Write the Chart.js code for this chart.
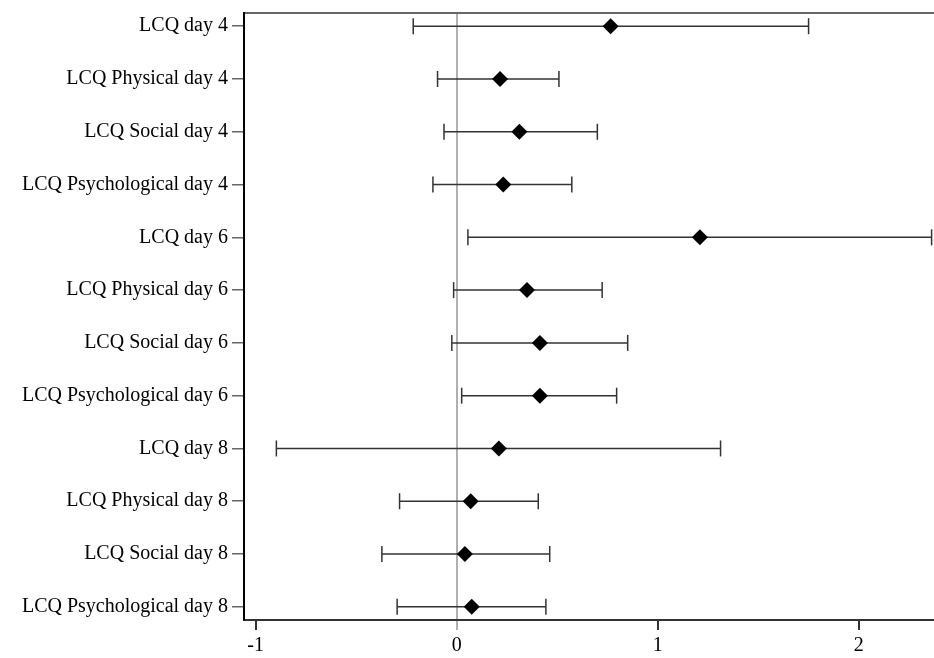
<!DOCTYPE html>
<html>
<head>
<meta charset="utf-8">
<script src="https://cdn.jsdelivr.net/npm/chart.js@4/dist/chart.umd.min.js"></script>
<style>
  body { margin: 0; background: #fff; }
  canvas { display: block; }
</style>
</head>
<body>
<canvas id="forest-chart" width="934" height="658"></canvas>
<script>
const rowLabels = [
  "LCQ day 4",
  "LCQ Physical day 4",
  "LCQ Social day 4",
  "LCQ Psychological day 4",
  "LCQ day 6",
  "LCQ Physical day 6",
  "LCQ Social day 6",
  "LCQ Psychological day 6",
  "LCQ day 8",
  "LCQ Physical day 8",
  "LCQ Social day 8",
  "LCQ Psychological day 8",
];
const estimates = [0.766, 0.216, 0.312, 0.232, 1.21, 0.35, 0.414, 0.414, 0.21, 0.07, 0.041, 0.075];
const lowerCI = [-0.216, -0.095, -0.063, -0.118, 0.056, -0.015, -0.024, 0.025, -0.897, -0.284, -0.372, -0.296];
const upperCI = [1.751, 0.509, 0.7, 0.573, 2.363, 0.724, 0.851, 0.796, 1.313, 0.406, 0.463, 0.444];
const xTicks = [-1, 0, 1, 2];

const X_MIN = -1.058;
const X_MAX = 2.375;
const SERIF = "'Liberation Serif', 'Times New Roman', serif";

// one line per row for the interval, caps drawn as rotated 'line' points
const ciSets = rowLabels.map((label, i) => ({
  type: "line",
  label: label,
  data: [
    { x: lowerCI[i], y: i + 1 },
    { x: upperCI[i], y: i + 1 },
  ],
  borderColor: "#333",
  borderWidth: 1.5,
  pointStyle: "line",
  rotation: 90,
  pointRadius: 8,
  pointBorderColor: "#333",
  pointBorderWidth: 1.5,
  clip: false,
  order: 1,
}));

const pointSet = {
  type: "scatter",
  label: "Estimate",
  data: estimates.map((v, i) => ({ x: v, y: i + 1 })),
  pointStyle: "rectRot",
  pointRadius: 8,
  backgroundColor: "#000",
  borderColor: "#000",
  borderWidth: 0,
  clip: false,
  order: 0,
};

const forestChart = new Chart(document.getElementById("forest-chart"), {
  type: "scatter",
  data: { datasets: [pointSet, ...ciSets] },
  options: {
    responsive: false,
    animation: false,
    layout: { autoPadding: false, padding: { top: 13, right: 0, left: 0, bottom: 0 } },
    plugins: {
      legend: { display: false },
      tooltip: { enabled: false },
    },
    scales: {
      x: {
        type: "linear",
        position: "bottom",
        min: X_MIN,
        max: X_MAX,
        afterBuildTicks: (scale) => {
          scale.ticks = xTicks.map((v) => ({ value: v }));
        },
        afterFit: (scale) => {
          scale.height = 38;
          scale.paddingLeft = 0;
          scale.paddingRight = 0;
        },
        ticks: {
          color: "#000",
          font: { family: SERIF, size: 20 },
          padding: 4,
          maxRotation: 0,
          callback: (v) => String(v),
        },
        grid: {
          color: (ctx) => (ctx.tick && ctx.tick.value === 0 ? "#b0b0b0" : "rgba(0,0,0,0)"),
          tickColor: (ctx) => (ctx.tick && ctx.tick.value === 0 ? "#b0b0b0" : "#333"),
          lineWidth: 2,
          tickLength: 10,
        },
        border: { color: "#333", width: 2 },
      },
      x2: {
        type: "linear",
        position: "top",
        min: X_MIN,
        max: X_MAX,
        afterFit: (scale) => {
          scale.height = 0;
          scale.paddingLeft = 0;
          scale.paddingRight = 0;
        },
        ticks: { display: false },
        grid: { display: false },
        border: { color: "#666", width: 2 },
      },
      y: {
        type: "linear",
        reverse: true,
        min: 0.75,
        max: 12.25,
        afterBuildTicks: (scale) => {
          scale.ticks = rowLabels.map((_, i) => ({ value: i + 1 }));
        },
        afterFit: (scale) => {
          scale.width = 244;
          scale.paddingTop = 0;
          scale.paddingBottom = 0;
        },
        ticks: {
          color: "#000",
          font: { family: SERIF, size: 20 },
          padding: 4,
          callback: (v) => rowLabels[v - 1],
        },
        grid: {
          drawOnChartArea: false,
          tickLength: 12,
          tickColor: "#666",
          lineWidth: 1.5,
        },
        border: { color: "#000", width: 2 },
      },
    },
  },
});
</script>
</body>
</html>
